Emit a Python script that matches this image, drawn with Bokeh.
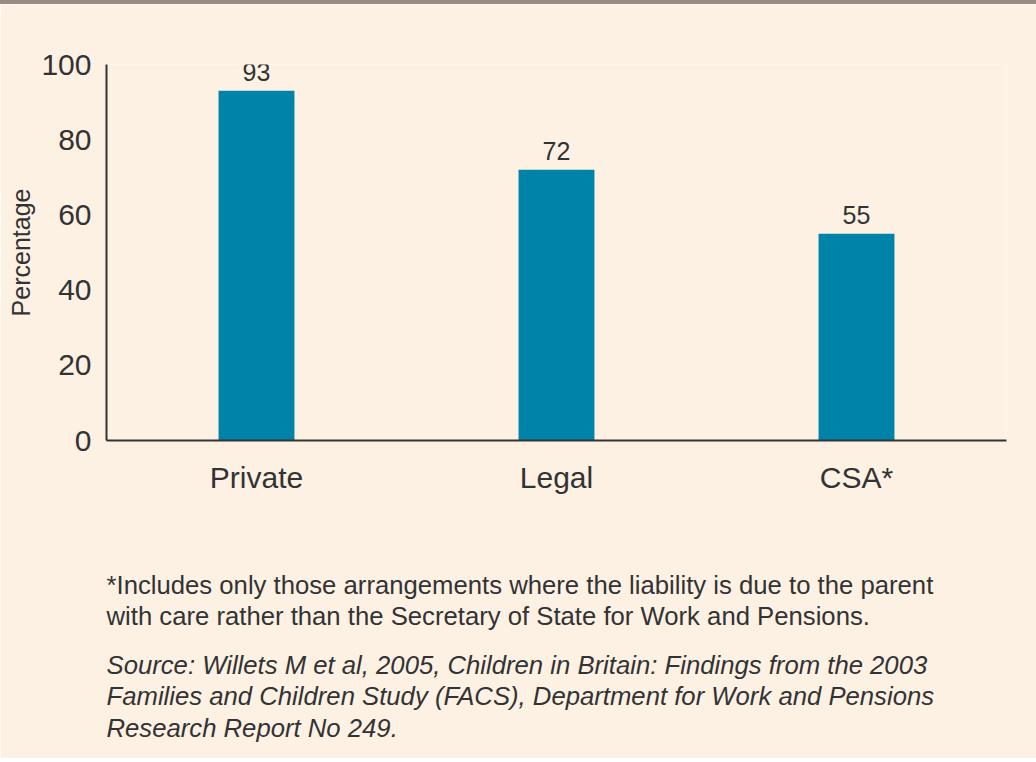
from bokeh.plotting import figure
from bokeh.models import ColumnDataSource, LabelSet, Title, Range1d, FixedTicker
from bokeh.core.properties import value
from bokeh.embed import file_html
from bokeh.resources import INLINE

categories = ["Private", "Legal", "CSA*"]
values = [93, 72, 55]
y_ticks = [0, 20, 40, 60, 80, 100]
footnote = [
    "*Includes only those arrangements where the liability is due to the parent",
    "with care rather than the Secretary of State for Work and Pensions.",
]
source_note = [
    "Source: Willets M et al, 2005, Children in Britain: Findings from the 2003",
    "Families and Children Study (FACS), Department for Work and Pensions",
    "Research Report No 249.",
]

BG = "#FDF1E4"
BAR = "#0083A9"
TXT = "#333333"
FONT = "Liberation Sans"
NOTE_SIZE = "25.7px"

src = ColumnDataSource(dict(cat=categories, val=values, lab=[str(v) for v in values]))

p = figure(x_range=categories, y_range=Range1d(0, 100), width=1036, height=758,
           output_backend="svg", toolbar_location=None,
           min_border_left=106, min_border_right=30, min_border_top=60, min_border_bottom=322)
p.styles = {"border-top": "4px solid #998B7F"}
p.background_fill_color = BG
p.border_fill_color = BG
p.outline_line_color = None
p.grid.grid_line_color = None
p.x_range.range_padding = 0

p.vbar(x="cat", top="val", width=0.253, source=src, fill_color=BAR, line_color=None)

p.add_layout(LabelSet(x="cat", y="val", text="lab", source=src, text_align="center",
                      text_baseline="bottom", y_offset=10, text_font=value(FONT),
                      text_font_size="25px", text_color=TXT))

ya = p.yaxis[0]
ya.ticker = FixedTicker(ticks=y_ticks)
ya.major_tick_line_color = None
ya.minor_tick_line_color = None
ya.major_label_standoff = 9
ya.major_label_text_font = FONT
ya.major_label_text_font_size = "30px"
ya.major_label_text_color = TXT
ya.axis_line_color = TXT
ya.axis_line_width = 2
ya.axis_label = "Percentage"
ya.axis_label_text_font = FONT
ya.axis_label_text_font_size = "25px"
ya.axis_label_text_font_style = "normal"
ya.axis_label_text_color = TXT
ya.axis_label_standoff = 3

xa = p.xaxis[0]
xa.major_tick_line_color = None
xa.minor_tick_line_color = None
xa.major_label_standoff = 14
xa.major_label_text_font = FONT
xa.major_label_text_font_size = "30px"
xa.major_label_text_color = TXT
xa.axis_line_color = TXT
xa.axis_line_width = 2


def spacer(h):
    p.add_layout(Title(text=" ", text_font_size="1px", standoff=h), "below")


def note(txt, style, st):
    p.add_layout(Title(text=txt, align="left", text_font=FONT, text_font_size=NOTE_SIZE,
                       text_font_style=style, text_color=TXT, standoff=st), "below")


spacer(69)
note(footnote[0], "normal", 1)
note(footnote[1], "normal", 1)
spacer(15)
note(source_note[0], "italic", 1)
note(source_note[1], "italic", 1)
note(source_note[2], "italic", 2)

open("out.html", "w").write(file_html(p, INLINE))
